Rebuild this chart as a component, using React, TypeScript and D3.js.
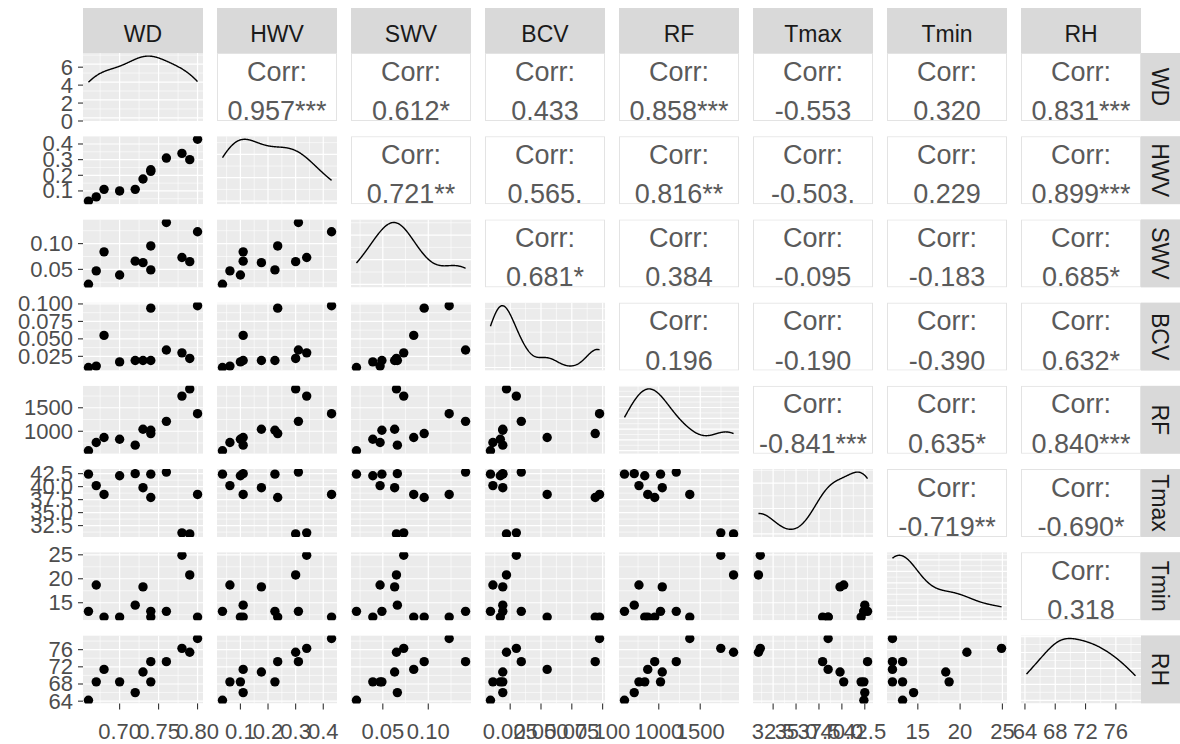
import React from 'react';
import * as d3 from 'd3';

const VARIABLES = ['WD', 'HWV', 'SWV', 'BCV', 'RF', 'Tmax', 'Tmin', 'RH'];

const WD = [0.66, 0.67, 0.68, 0.70, 0.72, 0.73, 0.74, 0.74, 0.76, 0.78, 0.79, 0.80];
const HWV = [0.035, 0.062, 0.11, 0.10, 0.11, 0.176, 0.235, 0.225, 0.31, 0.34, 0.30, 0.43];
const SWV = [0.021, 0.047, 0.084, 0.039, 0.066, 0.063, 0.0955, 0.049, 0.141, 0.073, 0.065, 0.123];
const BCV = [0.009, 0.011, 0.055, 0.017, 0.019, 0.019, 0.094, 0.019, 0.034, 0.030, 0.022, 0.0975];
const RF = [586, 761, 867, 831, 704, 1042, 951, 1021, 1211, 1748, 1902, 1374];
const TMAX = [42.4, 40.2, 38.5, 42.1, 42.5, 39.8, 37.9, 42.4, 42.8, 31.1, 30.9, 38.5];
const TMIN = [13.2, 18.7, 12.0, 12.0, 14.5, 18.3, 12.0, 13.2, 13.2, 24.9, 20.8, 12.0];
const RH = [64.2, 68.5, 71.4, 68.5, 66.0, 70.8, 73.2, 68.5, 73.2, 76.3, 75.4, 78.6];

const TICKS_WD = [0.70, 0.75, 0.80];
const LABELS_WD = ['0.70', '0.75', '0.80'];
const TICKS_HWV = [0.1, 0.2, 0.3, 0.4];
const LABELS_HWV = ['0.1', '0.2', '0.3', '0.4'];
const TICKS_SWV = [0.05, 0.10];
const LABELS_SWV = ['0.05', '0.10'];
const TICKS_BCV = [0.025, 0.05, 0.075, 0.1];
const LABELS_BCV = ['0.025', '0.050', '0.075', '0.100'];
const TICKS_RF = [1000, 1500];
const LABELS_RF = ['1000', '1500'];
const TICKS_TMAX = [32.5, 35, 37.5, 40, 42.5];
const LABELS_TMAX = ['32.5', '35.0', '37.5', '40.0', '42.5'];
const TICKS_TMIN = [15, 20, 25];
const LABELS_TMIN = ['15', '20', '25'];
const TICKS_RH = [64, 68, 72, 76];
const LABELS_RH = ['64', '68', '72', '76'];
const DENSITY_TICKS_WD = [0, 2, 4, 6];
const DENSITY_LABELS_WD = ['0', '2', '4', '6'];

const CORR_WD = ['0.957***', '0.612*', '0.433', '0.858***', '-0.553', '0.320', '0.831***'];
const CORR_HWV = ['0.721**', '0.565.', '0.816**', '-0.503.', '0.229', '0.899***'];
const CORR_SWV = ['0.681*', '0.384', '-0.095', '-0.183', '0.685*'];
const CORR_BCV = ['0.196', '-0.190', '-0.390', '0.632*'];
const CORR_RF = ['-0.841***', '0.635*', '0.840***'];
const CORR_TMAX = ['-0.719**', '-0.690*'];
const CORR_TMIN = ['0.318'];

const SERIES: number[][] = [WD, HWV, SWV, BCV, RF, TMAX, TMIN, RH];
const TICKS: number[][] = [TICKS_WD, TICKS_HWV, TICKS_SWV, TICKS_BCV, TICKS_RF, TICKS_TMAX, TICKS_TMIN, TICKS_RH];
const LABELS: string[][] = [LABELS_WD, LABELS_HWV, LABELS_SWV, LABELS_BCV, LABELS_RF, LABELS_TMAX, LABELS_TMIN, LABELS_RH];
const CORR_ROWS: string[][] = [CORR_WD, CORR_HWV, CORR_SWV, CORR_BCV, CORR_RF, CORR_TMAX, CORR_TMIN];

const W = 1180, H = 744;
const COL_X0 = 83, COL_STEP = 134, PANEL_W = 120;
const ROW_Y0 = 53, ROW_STEP = 83.2, PANEL_H = 68;
const FONT = '"Liberation Sans", Arial, Helvetica, sans-serif';

function expanded(v: number[]): [number, number] {
  const [a, b] = d3.extent(v) as [number, number];
  const r = b - a;
  return [a - 0.05 * r, b + 0.05 * r];
}

function nrd0(x: number[]): number {
  const s = [...x].sort((a, b) => a - b);
  const sd = d3.deviation(s) as number;
  const iqr = (d3.quantile(s, 0.75) as number) - (d3.quantile(s, 0.25) as number);
  let lo = Math.min(sd, iqr / 1.34);
  if (!(lo > 0)) lo = sd || Math.abs(s[0]) || 1;
  return 0.9 * lo * Math.pow(s.length, -0.2);
}

function kde(x: number[]): [number, number][] {
  const bw = nrd0(x);
  const [a, b] = d3.extent(x) as [number, number];
  const n = 256;
  return d3.range(n).map(i => {
    const t = a + ((b - a) * i) / (n - 1);
    const d = d3.mean(x, v => Math.exp(-0.5 * ((t - v) / bw) ** 2) / Math.sqrt(2 * Math.PI)) as number;
    return [t, d / bw];
  });
}

function minors(majors: number[], domain: [number, number], step?: number): number[] {
  const st = step ?? (majors.length > 1 ? majors[1] - majors[0] : 1);
  const out: number[] = [];
  const lo = Math.min(domain[0], domain[1]), hi = Math.max(domain[0], domain[1]);
  for (let v = majors[0] - st / 2; v <= majors[majors.length - 1] + st / 2 + 1e-12; v += st) {
    if (v >= lo && v <= hi) out.push(v);
  }
  return out;
}

const xScales = SERIES.map(s => d3.scaleLinear().domain(expanded(s)).range([0, PANEL_W]));
const yScales = SERIES.map(s => d3.scaleLinear().domain(expanded(s)).range([PANEL_H, 0]));
const densities = SERIES.map(s => kde(s));
const densityMax = densities.map(dd => d3.max(dd, d => d[1]) as number);
const densityScales = densityMax.map(m => d3.scaleLinear().domain([-0.05 * m, 1.05 * m]).range([PANEL_H, 0]));
// label scale used by the top-left axis (0 sits on the panel's lower edge)
const topLeftLabelScale = d3.scaleLinear().domain([0, 1.1 * densityMax[0]]).range([PANEL_H, 0]);

function inRange(v: number, dom: number[]) {
  const lo = Math.min(dom[0], dom[1]), hi = Math.max(dom[0], dom[1]);
  return v >= lo && v <= hi;
}

function Grid({ xs, xMaj, ys, yMaj, yStep }: any) {
  const xd = xs.domain() as [number, number];
  const yd = ys.domain() as [number, number];
  const xMajor = xMaj.filter((v: number) => inRange(v, xd));
  const yMajor = yMaj.filter((v: number) => inRange(v, yd));
  const xMin = minors(xMaj, xd);
  const yMin = minors(yMaj, yd, yStep);
  return (
    <g>
      {xMin.map((v, k) => (
        <line key={'xm' + k} x1={xs(v)} x2={xs(v)} y1={0} y2={PANEL_H} stroke="#fff" strokeWidth={0.6} />
      ))}
      {yMin.map((v, k) => (
        <line key={'ym' + k} x1={0} x2={PANEL_W} y1={ys(v)} y2={ys(v)} stroke="#fff" strokeWidth={0.6} />
      ))}
      {xMajor.map((v: number, k: number) => (
        <line key={'xM' + k} x1={xs(v)} x2={xs(v)} y1={0} y2={PANEL_H} stroke="#fff" strokeWidth={1.2} />
      ))}
      {yMajor.map((v: number, k: number) => (
        <line key={'yM' + k} x1={0} x2={PANEL_W} y1={ys(v)} y2={ys(v)} stroke="#fff" strokeWidth={1.2} />
      ))}
    </g>
  );
}

function Panel({ i, j }: { i: number; j: number }) {
  const x0 = COL_X0 + j * COL_STEP;
  const y0 = ROW_Y0 + i * ROW_STEP;
  const clipId = `clip-${i}-${j}`;
  let content: React.ReactNode = null;
  if (i < j) {
    const label = CORR_ROWS[i][j - i - 1];
    content = (
      <g>
        <rect x={0.5} y={0.5} width={PANEL_W - 1} height={PANEL_H - 1} fill="#fff" stroke="#E3E3E3" strokeWidth={1} />
        <text x={PANEL_W / 2} y={PANEL_H / 2 - 15.5} textAnchor="middle" dominantBaseline="central"
          fontSize={27} fill="#5A5A5A" fontFamily={FONT}>Corr:</text>
        <text x={PANEL_W / 2} y={PANEL_H / 2 + 24} textAnchor="middle" dominantBaseline="central"
          fontSize={27} fill="#5A5A5A" fontFamily={FONT}>{label}</text>
      </g>
    );
  } else if (i === j) {
    const xs = xScales[j];
    const ys = densityScales[i];
    const yt = ys.ticks(4);
    const yStep = yt.length > 1 ? yt[1] - yt[0] : 1;
    const line = d3.line<[number, number]>().x(d => xs(d[0])).y(d => ys(d[1]));
    content = (
      <g>
        <rect x={0} y={0} width={PANEL_W} height={PANEL_H} fill="#EBEBEB" />
        <Grid xs={xs} xMaj={TICKS[j]} ys={ys} yMaj={yt} yStep={yStep} />
        <path d={line(densities[i]) || ''} fill="none" stroke="#000" strokeWidth={1.4} />
      </g>
    );
  } else {
    const xs = xScales[j];
    const ys = yScales[i];
    const xv = SERIES[j];
    const yv = SERIES[i];
    content = (
      <g>
        <rect x={0} y={0} width={PANEL_W} height={PANEL_H} fill="#EBEBEB" />
        <Grid xs={xs} xMaj={TICKS[j]} ys={ys} yMaj={TICKS[i]} />
        {xv.map((v, k) => (
          <circle key={k} cx={xs(v)} cy={ys(yv[k])} r={4.7} fill="#000" />
        ))}
      </g>
    );
  }
  return (
    <g transform={`translate(${x0},${y0})`}>
      <defs>
        <clipPath id={clipId}>
          <rect x={0} y={0} width={PANEL_W} height={PANEL_H} />
        </clipPath>
      </defs>
      <g clipPath={`url(#${clipId})`}>{content}</g>
    </g>
  );
}

export default function App() {
  const idx = d3.range(VARIABLES.length);
  const lastRowY = ROW_Y0 + (VARIABLES.length - 1) * ROW_STEP + PANEL_H;
  return (
    <svg width={W} height={H} style={{ position: 'absolute', left: 0, top: 0, background: '#fff' }}>
      <rect x={0} y={0} width={W} height={H} fill="#fff" />
      {idx.map(i => idx.map(j => <Panel key={`${i}-${j}`} i={i} j={j} />))}

      {/* top strips */}
      {VARIABLES.map((v, j) => {
        const x0 = COL_X0 + j * COL_STEP;
        return (
          <g key={'ts' + j}>
            <rect x={x0} y={8} width={PANEL_W} height={ROW_Y0 - 8} fill="#D9D9D9" />
            <text x={x0 + PANEL_W / 2} y={34} textAnchor="middle" dominantBaseline="central"
              fontSize={23} fill="#1A1A1A" fontFamily={FONT}>{v}</text>
          </g>
        );
      })}

      {/* right strips */}
      {VARIABLES.map((v, i) => {
        const y0 = ROW_Y0 + i * ROW_STEP;
        const sx = COL_X0 + (VARIABLES.length - 1) * COL_STEP + PANEL_W;
        return (
          <g key={'rs' + i}>
            <rect x={sx} y={y0} width={W - sx} height={PANEL_H} fill="#D9D9D9" />
            <text transform={`translate(${sx + 19},${y0 + PANEL_H / 2}) rotate(90)`} textAnchor="middle"
              dominantBaseline="central" fontSize={23} fill="#1A1A1A" fontFamily={FONT}>{v}</text>
          </g>
        );
      })}

      {/* left y axes */}
      {VARIABLES.map((v, i) => {
        const y0 = ROW_Y0 + i * ROW_STEP;
        const ys = i === 0 ? topLeftLabelScale : yScales[i];
        const ticks = i === 0 ? DENSITY_TICKS_WD : TICKS[i];
        const labels = i === 0 ? DENSITY_LABELS_WD : LABELS[i];
        return (
          <g key={'ya' + i} transform={`translate(${COL_X0},${y0})`}>
            {ticks.map((t, k) => (
              <g key={k} transform={`translate(0,${ys(t)})`}>
                <line x1={-5} x2={0} y1={0} y2={0} stroke="#333" strokeWidth={1.1} />
                <text x={-10} y={0} textAnchor="end" dominantBaseline="central" fontSize={22}
                  fill="#4D4D4D" fontFamily={FONT}>{labels[k]}</text>
              </g>
            ))}
          </g>
        );
      })}

      {/* bottom x axes */}
      {VARIABLES.map((v, j) => {
        const x0 = COL_X0 + j * COL_STEP;
        const xs = xScales[j];
        return (
          <g key={'xa' + j} transform={`translate(${x0},${lastRowY})`}>
            {TICKS[j].map((t, k) => (
              <g key={k} transform={`translate(${xs(t)},0)`}>
                <line x1={0} x2={0} y1={0} y2={6} stroke="#333" strokeWidth={1.1} />
                <text x={0} y={35.5} textAnchor="middle" fontSize={22} fill="#4D4D4D" fontFamily={FONT}>{LABELS[j][k]}</text>
              </g>
            ))}
          </g>
        );
      })}
    </svg>
  );
}
